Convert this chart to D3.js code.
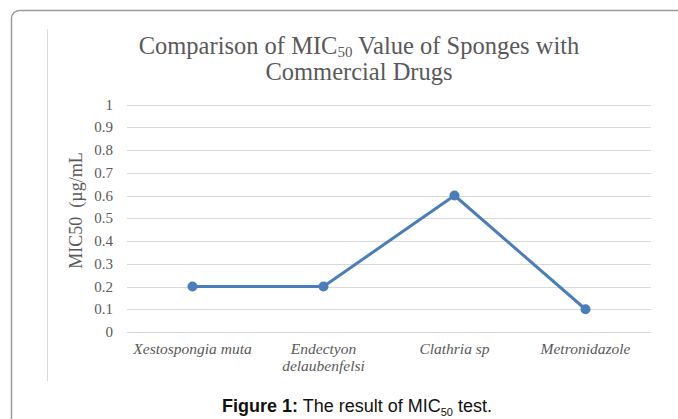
<!DOCTYPE html>
<html>
<head>
<meta charset="utf-8">
<script src="https://cdn.jsdelivr.net/npm/d3@7"></script>
<style>
  body { margin: 0; background: #fff; }
  svg { display: block; }
</style>
</head>
<body>
<script>
var width = 678,
    height = 419;

// data
var categories = ["Xestospongia muta", "Endectyon delaubenfelsi", "Clathria sp", "Metronidazole"];
var categoryLines = [["Xestospongia muta"], ["Endectyon", "delaubenfelsi"], ["Clathria sp"], ["Metronidazole"]];
var mic50 = [0.2, 0.2, 0.6, 0.1];
var yTicks = [0, 0.1, 0.2, 0.3, 0.4, 0.5, 0.6, 0.7, 0.8, 0.9, 1];

var svg = d3.select('body').append('svg')
    .attr('width', width)
    .attr('height', height);

/* outer rounded frame, runs off the right and bottom */
svg.append('rect')
    .attr('x', 11.5)
    .attr('y', 10.5)
    .attr('width', 700)
    .attr('height', 440)
    .attr('rx', 8)
    .style('fill', 'none')
    .style('stroke', '#9a9a9a')
    .style('stroke-width', 1.5);

/* chart area left edge */
svg.append('line')
    .attr('x1', 47.5).attr('x2', 47.5)
    .attr('y1', 29).attr('y2', 381)
    .style('stroke', '#d9d9d9')
    .style('stroke-width', 1);

var x = d3.scalePoint()
    .domain(categories)
    .range([127, 651])
    .padding(0.5);

var y = d3.scaleLinear()
    .domain([0, 1])
    .range([332, 104.5]);

var serif = "'Liberation Serif', 'Times New Roman', serif";
var grey = '#595959';

/* grid */
svg.append('g')
    .selectAll('line')
    .data(yTicks)
    .enter().append('line')
    .attr('x1', 127).attr('x2', 651)
    .attr('y1', function(d) { return Math.round(y(d)) + 0.5; })
    .attr('y2', function(d) { return Math.round(y(d)) + 0.5; })
    .style('stroke', '#d9d9d9')
    .style('stroke-width', 1);

/* y tick labels */
svg.append('g')
    .selectAll('text')
    .data(yTicks)
    .enter().append('text')
    .attr('x', 113)
    .attr('y', function(d) { return y(d) + 5; })
    .attr('text-anchor', 'end')
    .style('font-family', serif)
    .style('font-size', '15px')
    .style('fill', grey)
    .text(function(d) { return d3.format('')(d); });

/* x labels */
var xl = svg.append('g')
    .selectAll('text')
    .data(categories)
    .enter().append('text')
    .attr('x', function(d) { return x(d); })
    .attr('y', 354)
    .attr('text-anchor', 'middle')
    .style('font-family', serif)
    .style('font-style', 'italic')
    .style('font-size', '15.5px')
    .style('fill', grey);

xl.selectAll('tspan')
    .data(function(d, i) { return categoryLines[i]; })
    .enter().append('tspan')
    .attr('x', function() { return x(d3.select(this.parentNode).datum()); })
    .attr('dy', function(d, i) { return i ? 17 : 0; })
    .text(function(d) { return d; });

/* y axis title (no closing bracket in the original) */
svg.append('text')
    .attr('transform', 'translate(81.5,210.5) rotate(-90)')
    .attr('text-anchor', 'middle')
    .style('font-family', serif)
    .style('font-size', '18px')
    .style('fill', grey)
    .text('MIC50\u00a0 (µg/mL');

/* title */
var title = svg.append('text')
    .attr('text-anchor', 'middle')
    .style('font-family', serif)
    .style('font-size', '24.5px')
    .style('fill', grey);
var t1 = title.append('tspan').attr('x', 359).attr('y', 54);
t1.append('tspan').text('Comparison of MIC');
t1.append('tspan').attr('dy', 3).style('font-size', '15px').text('50');
t1.append('tspan').attr('dy', -3).text(' Value of Sponges with');
title.append('tspan').attr('x', 359).attr('y', 80).text('Commercial Drugs');

/* line + markers */
var line = d3.line()
    .x(function(d, i) { return x(categories[i]); })
    .y(function(d) { return y(d); });

svg.append('path')
    .datum(mic50)
    .attr('d', line)
    .style('fill', 'none')
    .style('stroke', '#4a7ebb')
    .style('stroke-width', 3)
    .style('stroke-linejoin', 'round');

svg.selectAll('circle')
    .data(mic50)
    .enter().append('circle')
    .attr('cx', function(d, i) { return x(categories[i]); })
    .attr('cy', function(d) { return y(d); })
    .attr('r', 5)
    .style('fill', '#4a7ebb');

/* caption */
var cap = svg.append('text')
    .attr('x', 357)
    .attr('y', 412)
    .attr('text-anchor', 'middle')
    .style('font-family', "'Liberation Sans', Arial, sans-serif")
    .style('font-size', '18px')
    .style('fill', '#111');
cap.append('tspan').style('font-weight', 'bold').text('Figure 1:');
cap.append('tspan').text(' The result of MIC');
cap.append('tspan').attr('dy', 4).style('font-size', '11px').text('50');
cap.append('tspan').attr('dy', -4).text(' test.');
</script>
</body>
</html>
